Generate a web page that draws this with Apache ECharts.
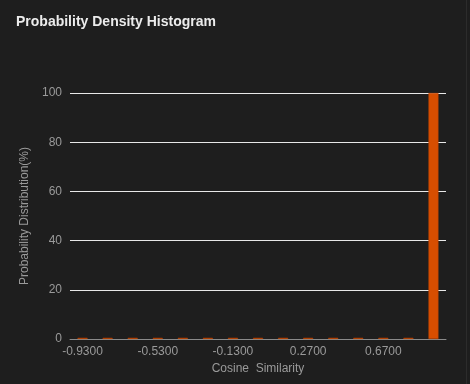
<!DOCTYPE html>
<html>
<head>
<meta charset="utf-8">
<script src="https://cdn.jsdelivr.net/npm/echarts@6/dist/echarts.min.js"></script>
<style>
  html, body { margin: 0; padding: 0; background: #1e1e1e; }
  #chart { width: 466px; height: 384px; border-right: 1px solid #2c2c2c; }
</style>
</head>
<body>
<div id="chart"></div>
<script>
// histogram bins of cosine similarity (15 bins from -1 to 1)
const binLabels = ['-0.9300','-0.7967','-0.6633','-0.5300','-0.3967','-0.2633','-0.1300','0.0033','0.1367','0.2700','0.4033','0.5367','0.6700','0.8033','0.9367']
const probValues = [0.5,0.5,0.5,0.5,0.5,0.5,0.5,0.5,0.5,0.5,0.5,0.5,0.5,0.5,100]
const yTicks = [0, 20, 40, 60, 80, 100]

var chart = echarts.init(document.getElementById('chart'))
var axisText = { color: '#9a9a9a', fontSize: 12, fontFamily: 'Liberation Sans, Arial, sans-serif' }
chart.setOption({
  backgroundColor: '#1e1e1e',
  textStyle: { fontFamily: 'Liberation Sans, Arial, sans-serif' },
  title: {
    text: 'Probability Density Histogram',
    left: 11, top: 10,
    textStyle: { color: '#ececec', fontSize: 14, fontWeight: 'bold' }
  },
  grid: { left: 70, right: 20, top: 93, bottom: 45 },
  xAxis: {
    type: 'category',
    data: binLabels,
    name: 'Cosine  Similarity',
    nameLocation: 'middle',
    nameGap: 23,
    nameTextStyle: axisText,
    axisLine: { lineStyle: { color: '#8a8a8a' } },
    axisTick: { alignWithLabel: true, interval: 2, lineStyle: { color: '#8a8a8a' } },
    axisLabel: { ...axisText, interval: 2, margin: 7 }
  },
  yAxis: {
    type: 'value',
    min: yTicks[0], max: yTicks[yTicks.length - 1], interval: 20,
    name: 'Probability Distribution(%)',
    nameLocation: 'middle',
    nameGap: 31,
    nameTextStyle: axisText,
    axisLine: { show: false },
    axisTick: { show: false },
    axisLabel: { ...axisText, margin: 8 },
    splitLine: { lineStyle: { color: '#e8e8e8', width: 1 } }
  },
  series: [{
    type: 'bar',
    data: probValues,
    barWidth: 10,
    itemStyle: { color: '#d84e00', borderColor: '#b84200', borderWidth: 0.5 }
  }]
})
</script>
</body>
</html>
